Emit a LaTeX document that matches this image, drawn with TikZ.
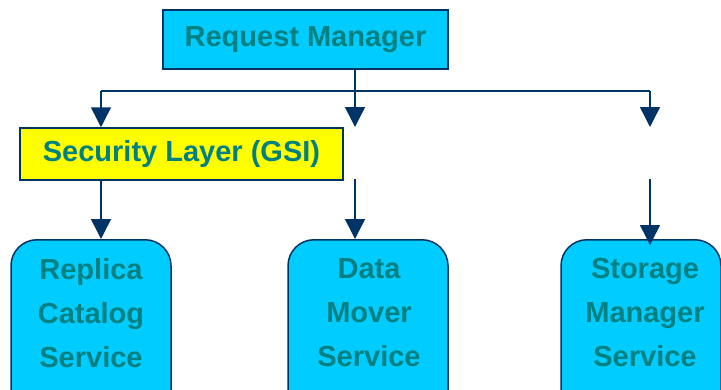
\documentclass[tikz,border=0pt]{standalone}
\usepackage{fontspec}
\setmainfont{Liberation Sans}
\usetikzlibrary{arrows.meta}
\definecolor{boxcyan}{HTML}{00CCFF}
\definecolor{boxyellow}{HTML}{FFFF00}
\definecolor{navy}{HTML}{003366}
\definecolor{tealtext}{HTML}{008080}
\tikzset{
  lbl/.style={font=\fontsize{29}{44}\selectfont\bfseries, text=tealtext},
  flatbox/.style={draw=navy, line width=1.5pt, inner sep=0pt, lbl},
  svcbox/.style={draw=navy, fill=boxcyan, line width=1.5pt, rounded corners=26pt,
    minimum width=160pt, minimum height=190pt, anchor=north},
  svctext/.style={lbl, align=center, inner sep=0pt, anchor=north},
  wire/.style={draw=navy, line width=1.5pt},
  arr/.style={wire, -{Triangle[length=20pt, width=20pt]}}
}
\begin{document}
\begin{tikzpicture}[x=1pt, y=-1pt]
\useasboundingbox (0,0) rectangle (721,389);

% manager and security layer
\node[flatbox, fill=boxcyan, minimum width=285pt, minimum height=59pt] (rm) at (305.5,39.5) {Request Manager};
\node[flatbox, fill=boxyellow, minimum width=323pt, minimum height=52pt] (sec) at (181.5,154) {Security Layer (GSI)};

% service boxes
\node[svcbox] (rc) at (91,239) {};
\node[svcbox] (dm) at (368,239) {};
\node[svcbox] (sm) at (641,239) {};
\node[svctext] (rct) at (91,258) {Replica\\Catalog\\Service};
\node[svctext] (dmt) at (369,258) {Data\\Mover\\Service};
\node[svctext] (smt) at (645,258) {Storage\\Manager\\Service};

% distribution bus
\coordinate (jl) at (101,91);
\coordinate (jm) at (355,91);
\coordinate (jr) at (650,91);
\coordinate (tm) at (355,127);
\coordinate (tr) at (650,127);
\coordinate (bm) at (355,179);
\coordinate (br) at (650,179);
\coordinate (er) at (650,245);

\draw[wire] (jm |- rm.south) -- (jm);
\draw[wire] (jl) -- (jr);
\draw[arr] (jl) -- (jl |- sec.north);
\draw[arr] (jm) -- (tm);
\draw[arr] (jr) -- (tr);

% links down to the services
\draw[arr] (jl |- sec.south) -- (jl |- rc.north);
\draw[arr] (bm) -- (bm |- dm.north);
\draw[arr] (br) -- (er);
\end{tikzpicture}
\end{document}
